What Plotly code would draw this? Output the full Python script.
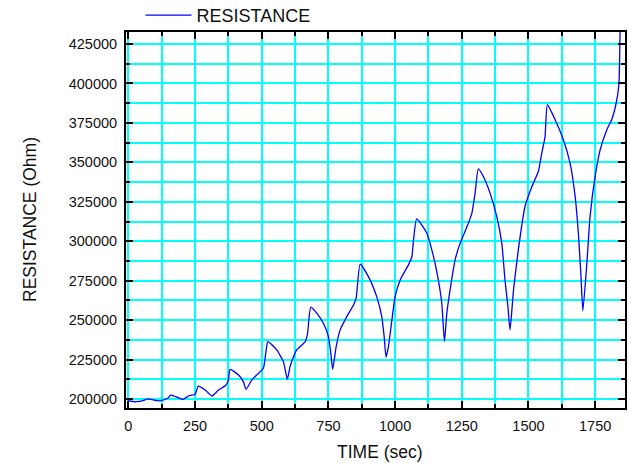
import plotly.graph_objects as go

# Resistance readings over time
time_sec = [0, 8, 31, 55, 75, 95, 112, 135, 150, 158, 180, 204, 225, 250, 262,
            288, 313, 338, 366, 375, 381, 413, 431, 441, 463, 481, 506, 515, 523,
            556, 581, 596, 606, 619, 631, 663, 671, 684, 706, 731, 750, 759, 766,
            779, 794, 819, 844, 854, 869, 900, 931, 950, 959, 966,
            975, 988, 1000, 1019, 1050, 1063, 1069, 1081, 1119, 1144, 1162, 1175, 1185,
            1194, 1212, 1225, 1244, 1275, 1288, 1300, 1312, 1331, 1356, 1381, 1400,
            1412, 1423, 1431, 1444, 1462, 1487, 1513, 1537, 1550, 1562, 1571,
            1600, 1631, 1656, 1675, 1688, 1697, 1704, 1719, 1731, 1750, 1769, 1794,
            1812, 1829, 1839, 1844]
resistance = [199200, 198600, 198300, 199000, 200100, 199300, 198800, 199600, 200800,
              202500, 201300, 199800, 201900, 203000, 208200,
              205700, 201900, 205700, 208900, 212000, 218800, 215200, 211000, 206100,
              212100, 215200, 219500, 229000, 236400,
              231100, 223700, 212500, 220500, 226800, 231100, 236400, 240600, 258200,
              254400, 248000, 239500, 229000, 218800,
              233200, 243800, 252200, 259600, 263900, 285500, 277600, 264900, 252200,
              239500, 226500,
              233200, 250100, 264900, 275500, 285000, 290300, 300900, 314200, 305100,
              290300, 275500, 260700, 236400,
              254400, 275500, 288200, 298800, 311500, 317800, 330500, 345900, 341000,
              330500, 315700, 298800,
              275500, 258600, 243800, 269200, 294500, 322000, 334700, 344200, 355900,
              366000, 386500,
              377000, 364300, 349500, 328400, 303000, 277600, 255800, 286100, 315700,
              341100, 358000, 370700,
              377000, 387600, 399200, 440000]

x_ticks = [0, 250, 500, 750, 1000, 1250, 1500, 1750]
y_ticks = [200000, 225000, 250000, 275000, 300000, 325000, 350000, 375000, 400000, 425000]

FONT = "Arial, Liberation Sans, sans-serif"
GRID = "#00FFFF"

fig = go.Figure()
fig.add_trace(go.Scatter(
    x=time_sec, y=resistance, mode="lines", name="RESISTANCE",
    line=dict(color="#0000FF", width=1.3, shape="spline", smoothing=0.5),
))

axis_common = dict(
    showline=True, linecolor="black", linewidth=2, mirror="ticks",
    ticks="inside", ticklen=7, tickwidth=2, tickcolor="black",
    showgrid=True, gridcolor=GRID, zeroline=False,
    tickfont=dict(family=FONT, size=14.5, color="#111111"),
)

fig.update_layout(
    width=631, height=465,
    margin=dict(l=126, r=6, t=32, b=57, autoexpand=False),
    paper_bgcolor="white", plot_bgcolor="white",
    font=dict(family=FONT, color="#111111"),
    showlegend=True,
    legend=dict(
        x=0.029, y=0.995, xref="paper", yref="paper",
        xanchor="left", yanchor="bottom",
        orientation="h", bgcolor="rgba(0,0,0,0)",
        font=dict(family=FONT, size=18, color="#111111"),
        itemwidth=46,
    ),
    xaxis=dict(
        axis_common,
        range=[-9, 1862],
        tickvals=x_ticks, ticktext=[str(v) for v in x_ticks],
        gridwidth=2,
        ticklabelstandoff=4,
        minor=dict(dtick=125, tick0=0, ticks="inside", ticklen=4, tickwidth=1.5,
                   tickcolor="black", showgrid=True, gridcolor=GRID, gridwidth=2),
    ),
    yaxis=dict(
        axis_common,
        range=[194300, 432600],
        tickvals=y_ticks, ticktext=[str(v) for v in y_ticks],
        gridwidth=1.5,
        ticklabelstandoff=4,
        minor=dict(dtick=12500, tick0=0, ticks="inside", ticklen=4, tickwidth=1.5,
                   tickcolor="black", showgrid=True, gridcolor=GRID, gridwidth=1.5),
    ),
    annotations=[
        dict(text="TIME (sec)", xref="paper", yref="paper", x=0.5, y=0,
             xanchor="center", yanchor="middle", yshift=-44, xshift=4,
             showarrow=False, font=dict(family=FONT, size=17.5, color="#111111")),
        dict(text="RESISTANCE (Ohm)", xref="paper", yref="paper", x=0, y=0.5,
             xanchor="center", yanchor="middle", xshift=-96, textangle=-90,
             showarrow=False, font=dict(family=FONT, size=17.5, color="#111111")),
    ],
)

fig.write_html("out.html")
